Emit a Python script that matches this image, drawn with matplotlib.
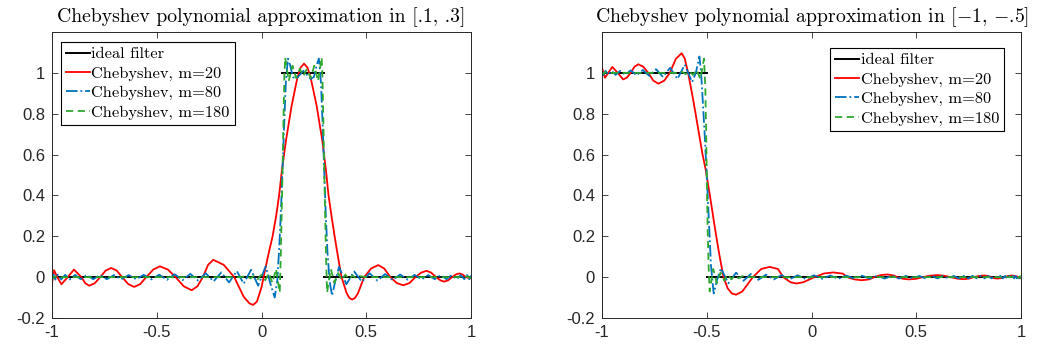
import numpy as np
import matplotlib
matplotlib.use('Agg')
import matplotlib.pyplot as plt

nan = np.nan

# ---------------- left panel: filter on [.1, .3] ----------------
ideal_left_x = [-1.0, 0.1, nan, 0.1, 0.3, nan, 0.3, 1.0]
ideal_left_y = [0.0, 0.0, nan, 1.0, 1.0, nan, 0.0, 0.0]

# m = 20
red_left_x = [-1.0, -0.99, -0.975, -0.955, -0.925, -0.895, -0.86, -0.841, -0.822, -0.796,
              -0.77, -0.744, -0.718, -0.691, -0.665, -0.636, -0.608, -0.579, -0.55, -0.517,
              -0.485, -0.447, -0.41, -0.371, -0.333, -0.306, -0.28, -0.255, -0.23, -0.18,
              -0.13, -0.085, -0.058, -0.04, -0.022, 0.0, 0.018, 0.037, 0.053, 0.07,
              0.084, 0.097, 0.117, 0.144, 0.17, 0.186, 0.203, 0.22, 0.236, 0.263,
              0.29, 0.308, 0.32, 0.334, 0.349, 0.365, 0.382, 0.407, 0.42, 0.433,
              0.446, 0.46, 0.49, 0.523, 0.557, 0.586, 0.615, 0.646, 0.677, 0.706,
              0.735, 0.762, 0.788, 0.81, 0.833, 0.855, 0.872, 0.89, 0.91, 0.927,
              0.944, 0.96, 0.975, 1.0]
red_left_y = [-0.03, 0.034, 0.0, -0.035, 0.0, 0.037, 0.0, -0.03, -0.042, -0.03,
              0.0, 0.032, 0.045, 0.032, 0.0, -0.034, -0.048, -0.034, 0.0, 0.037,
              0.053, 0.037, 0.0, -0.045, -0.064, -0.045, 0.0, 0.06, 0.085, 0.06,
              0.0, -0.096, -0.128, -0.136, -0.12, -0.05, 0.04, 0.13, 0.2, 0.3,
              0.4, 0.52, 0.67, 0.84, 0.97, 1.025, 1.045, 1.025, 0.97, 0.84,
              0.67, 0.52, 0.4, 0.3, 0.2, 0.1, 0.0, -0.08, -0.102, -0.11,
              -0.102, -0.08, 0.0, 0.042, 0.059, 0.042, 0.0, -0.029, -0.04, -0.029,
              0.0, 0.022, 0.031, 0.022, 0.0, -0.016, -0.022, -0.016, 0.0, 0.013,
              0.018, 0.013, 0.0, -0.006]

# m = 80
blue_left_x = [-1.0, -0.993, -0.984, -0.972, -0.956, -0.937, -0.915, -0.89, -0.863, -0.834,
               -0.803, -0.771, -0.738, -0.704, -0.669, -0.634, -0.598, -0.562, -0.525, -0.488,
               -0.451, -0.414, -0.377, -0.34, -0.303, -0.266, -0.229, -0.192, -0.155, -0.118,
               -0.085, -0.05, -0.016, 0.02, 0.042, 0.063, 0.075, 0.085, 0.093, 0.1,
               0.108, 0.116, 0.126, 0.136, 0.15, 0.165, 0.2, 0.235, 0.25, 0.264,
               0.274, 0.284, 0.292, 0.3, 0.307, 0.315, 0.325, 0.337, 0.352, 0.37,
               0.405, 0.442, 0.479, 0.516, 0.553, 0.59, 0.626, 0.662, 0.697, 0.731,
               0.764, 0.796, 0.827, 0.856, 0.883, 0.908, 0.931, 0.951, 0.968, 0.982,
               0.992, 1.0]
blue_left_y = [-0.012, 0.012, -0.012, 0.012, -0.011, 0.011, -0.011, 0.011, -0.01, 0.01,
               -0.01, 0.01, -0.01, 0.01, -0.01, 0.01, -0.01, 0.011, -0.011, 0.012,
               -0.013, 0.014, -0.015, 0.016, -0.017, 0.019, -0.021, 0.023, -0.026, 0.03,
               -0.032, 0.036, -0.042, 0.053, -0.03, -0.1, -0.02, 0.15, 0.33, 0.52,
               0.74, 0.95, 1.07, 1.04, 0.98, 0.97, 1.01, 0.97, 0.98, 1.04,
               1.07, 0.95, 0.74, 0.5, 0.3, 0.12, -0.02, -0.09, -0.02, 0.05,
               -0.035, 0.028, -0.022, 0.019, -0.017, 0.015, -0.014, 0.013, -0.012, 0.011,
               -0.011, 0.01, -0.01, 0.01, -0.01, 0.01, -0.01, 0.01, -0.01, 0.01,
               -0.01, 0.008]

# m = 180
green_left_x = [-1.0, -0.995, -0.985, -0.97, -0.95, -0.1, -0.07, -0.052, -0.035, -0.018,
                0.0, 0.018, 0.035, 0.052, 0.069, 0.087, 0.092, 0.096, 0.1, 0.104,
                0.109, 0.113, 0.13, 0.148, 0.165, 0.183, 0.2, 0.217, 0.235, 0.252,
                0.27, 0.287, 0.291, 0.296, 0.3, 0.304, 0.308, 0.313, 0.331, 0.348,
                0.366, 0.383, 0.4, 0.418, 0.435, 0.452, 0.47, 0.5, 0.97, 0.985,
                0.995, 1.0]
green_left_y = [0.006, -0.006, 0.004, -0.003, 0.0, 0.0, 0.005, -0.006, 0.008, -0.01,
                0.012, -0.015, 0.02, -0.028, 0.04, -0.075, 0.1, 0.3, 0.5, 0.72,
                0.98, 1.075, 0.96, 1.035, 0.975, 1.02, 0.985, 1.02, 0.975, 1.035,
                0.96, 1.075, 0.98, 0.72, 0.5, 0.3, 0.1, -0.075, 0.04, -0.028,
                0.02, -0.015, 0.012, -0.01, 0.008, -0.006, 0.005, 0.0, 0.0, 0.004,
                -0.005, 0.006]

# ---------------- right panel: filter on [-1, -.5] ----------------
ideal_right_x = [-1.0, -0.5, nan, -0.5, 1.0]
ideal_right_y = [1.0, 1.0, nan, 0.0, 0.0]

red_right_x = [-1.0, -0.993, -0.986, -0.97, -0.951, -0.925, -0.899, -0.881, -0.863, -0.845,
               -0.827, -0.803, -0.779, -0.755, -0.731, -0.703, -0.676, -0.648, -0.62, -0.605,
               -0.589, -0.565, -0.54, -0.52, -0.505, -0.485, -0.462, -0.44, -0.42, -0.4,
               -0.38, -0.36, -0.33, -0.28, -0.24, -0.2, -0.16, -0.135, -0.1, -0.071,
               -0.04, 0.015, 0.06, 0.105, 0.15, 0.17, 0.205, 0.24, 0.275, 0.3,
               0.33, 0.36, 0.39, 0.41, 0.437, 0.464, 0.5, 0.53, 0.565, 0.6,
               0.632, 0.665, 0.695, 0.727, 0.752, 0.775, 0.8, 0.823, 0.845, 0.855,
               0.87, 0.887, 0.905, 0.92, 0.94, 0.958, 0.975, 0.988, 1.0]
red_right_y = [1.026, 1.0, 0.976, 1.0, 1.029, 1.0, 0.968, 0.977, 1.0, 1.03,
               1.042, 1.03, 1.0, 0.962, 0.947, 0.962, 1.0, 1.068, 1.096, 1.07,
               1.0, 0.87, 0.72, 0.6, 0.526, 0.4, 0.247, 0.11, 0.0, -0.055,
               -0.08, -0.086, -0.07, 0.0, 0.04, 0.05, 0.04, 0.0, -0.025, -0.031,
               -0.025, 0.0, 0.018, 0.023, 0.017, 0.0, -0.011, -0.015, -0.011, 0.0,
               0.01, 0.013, 0.009, 0.0, -0.008, -0.011, -0.008, 0.0, 0.007, 0.01,
               0.007, 0.0, -0.007, -0.01, -0.007, 0.0, 0.006, 0.008, 0.006, 0.0,
               -0.005, -0.007, -0.005, 0.0, 0.006, 0.008, 0.005, 0.0, -0.006]

blue_right_x = [-1.0, -0.993, -0.983, -0.97, -0.954, -0.935, -0.913, -0.889, -0.863, -0.835,
                -0.805, -0.774, -0.742, -0.709, -0.675, -0.64, -0.605, -0.57, -0.552, -0.535,
                -0.527, -0.52, -0.51, -0.5, -0.49, -0.48, -0.467, -0.45, -0.432, -0.397,
                -0.36, -0.325, -0.29, -0.254, -0.217, -0.18, -0.142, -0.104, -0.066, -0.027,
                0.012, 0.051, 0.09, 0.128, 0.166, 0.204, 0.241, 0.278, 0.314, 0.349,
                0.384, 0.418, 0.451, 0.483, 0.514, 0.544, 0.573, 0.601, 0.628, 0.654,
                0.679, 0.703, 0.726, 0.748, 0.769, 0.789, 0.808, 0.826, 0.843, 0.859,
                0.874, 0.888, 0.901, 0.913, 0.924, 0.934, 0.943, 0.952, 0.96, 0.967,
                0.974, 0.98, 0.985, 0.99, 0.994, 1.0]
blue_right_y = [1.005, 0.99, 1.01, 0.99, 1.01, 0.99, 1.01, 0.99, 1.012, 0.988,
                1.014, 0.985, 1.018, 0.98, 1.025, 0.97, 1.04, 0.955, 1.0, 1.08,
                1.0, 0.88, 0.7, 0.5, 0.28, 0.06, -0.08, -0.01, 0.043, -0.03,
                0.022, -0.018, 0.015, -0.013, 0.012, -0.011, 0.01, -0.01, 0.009, -0.009,
                0.009, -0.008, 0.008, -0.008, 0.008, -0.007, 0.007, -0.007, 0.007, -0.007,
                0.007, -0.007, 0.006, -0.006, 0.006, -0.006, 0.006, -0.006, 0.006, -0.006,
                0.006, -0.006, 0.006, -0.006, 0.006, -0.006, 0.006, -0.006, 0.006, -0.006,
                0.006, -0.006, 0.006, -0.006, 0.006, -0.006, 0.006, -0.006, 0.006, -0.006,
                0.006, -0.006, 0.006, -0.006, 0.006, -0.006]

green_right_x = [-1.0, -0.995, -0.985, -0.97, -0.95, -0.65, -0.636, -0.618, -0.601, -0.583,
                 -0.566, -0.549, -0.53, -0.513, -0.507, -0.503, -0.5, -0.496, -0.491, -0.486,
                 -0.469, -0.452, -0.434, -0.417, -0.4, -0.382, -0.365, -0.348, -0.33, -0.3,
                 0.95, 0.97, 0.985, 0.995, 1.0]
green_right_y = [1.006, 0.994, 1.004, 0.997, 1.0, 1.0, 0.996, 1.005, 0.994, 1.008,
                 0.99, 1.015, 0.97, 1.07, 0.93, 0.72, 0.5, 0.25, 0.05, -0.07,
                 0.04, -0.03, 0.022, -0.017, 0.013, -0.01, 0.008, -0.006, 0.005, 0.0,
                 0.0, 0.003, -0.004, 0.005, -0.006]

titles = ['Chebyshev polynomial approximation in [.1, .3]',
          'Chebyshev polynomial approximation in [$-$1, $-$.5]']
labels = ['ideal filter', 'Chebyshev, m=20', 'Chebyshev, m=80', 'Chebyshev, m=180']
xticks = [-1, -0.5, 0, 0.5, 1]
xticklabels = ['-1', '-0.5', '0', '0.5', '1']
yticks = [-0.2, 0, 0.2, 0.4, 0.6, 0.8, 1]
yticklabels = ['-0.2', '0', '0.2', '0.4', '0.6', '0.8', '1']

plt.rcParams['mathtext.fontset'] = 'cm'
plt.rcParams['axes.unicode_minus'] = False

W, H = 1037, 350
fig = plt.figure(figsize=(W / 100, H / 100), dpi=100)
ax1 = fig.add_axes([52 / W, 32 / H, 419 / W, 286 / H])
ax2 = fig.add_axes([602 / W, 32 / H, 419 / W, 286 / H])

panels = [
    (ax1, ideal_left_x, ideal_left_y, red_left_x, red_left_y, blue_left_x, blue_left_y,
     green_left_x, green_left_y, 'upper left', (9 / 419, 1 - 10 / 286)),
    (ax2, ideal_right_x, ideal_right_y, red_right_x, red_right_y, blue_right_x, blue_right_y,
     green_right_x, green_right_y, 'upper right', (1 - 17 / 419, 1 - 16 / 286)),
]

edge = '#262626'
for i, (ax, ix, iy, rx, ry, bx, by, gx, gy, loc, anchor) in enumerate(panels):
    ax.plot(ix, iy, color='black', lw=1.4, label=labels[0])
    ax.plot(rx, ry, color='#ff0000', lw=1.3, label=labels[1])
    ax.plot(bx, by, color='#0072bd', lw=1.3, ls='-.', label=labels[2])
    ax.plot(gx, gy, color='#2fa82f', lw=1.3, ls='--', dashes=(4, 2.5), label=labels[3])

    ax.set_xlim(-1, 1)
    ax.set_ylim(-0.2, 1.2)
    ax.set_xticks(xticks)
    ax.set_xticklabels(xticklabels)
    ax.set_yticks(yticks)
    ax.set_yticklabels(yticklabels)
    ax.tick_params(direction='in', top=True, right=True, length=4, width=0.6,
                   colors=edge, labelsize=12, pad=5)
    for lab in ax.get_xticklabels() + ax.get_yticklabels():
        lab.set_fontfamily('Liberation Sans')
    for sp in ax.spines.values():
        sp.set_color(edge)
        sp.set_linewidth(0.7)

    ax.set_title(titles[i], fontfamily='cmr10', fontsize=14.2, pad=7)

    leg = ax.legend(loc=loc, bbox_to_anchor=anchor, borderaxespad=0,
                    prop={'family': 'cmr10', 'size': 11.8},
                    fancybox=False, framealpha=1, edgecolor='black',
                    handlelength=1.45, handletextpad=0.1, labelspacing=0.3,
                    borderpad=0.3)
    leg.get_frame().set_linewidth(0.8)

fig.savefig('out.png', dpi=100)
